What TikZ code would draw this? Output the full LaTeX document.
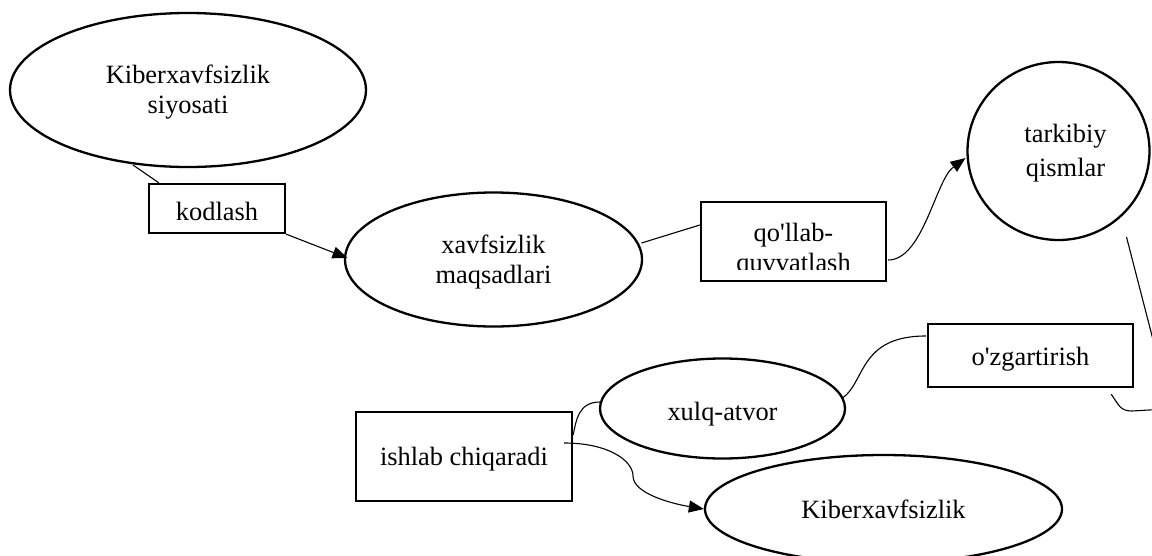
\documentclass[tikz,border=0pt]{standalone}
\usepackage{fontspec}
\setmainfont{Liberation Serif}
\usetikzlibrary{calc,arrows.meta,shapes.geometric}

\tikzset{
  shp/.style={draw, line width=2.3pt, inner sep=0pt},
  oval/.style={shp, ellipse},
  boxnode/.style={shp, rectangle},
  fs/.style={font=\fontsize{26.4}{#1}\selectfont},
  txt/.style={fs=30, align=center, inner sep=0pt},
  conn/.style={line width=1.1pt},
  arrowconn/.style={conn, -{Triangle[length=15pt,width=12pt]}},
}

\begin{document}
\begin{tikzpicture}[x=1pt,y=1pt]
\useasboundingbox (0,0) rectangle (1152,-555);
\fill[white] (0,0) rectangle (1152,-555);
\clip (0,0) rectangle (1152,-555);

% ellipses
\node[oval, minimum width=356pt, minimum height=154pt,
  label={[txt, fs=30, yshift=-2.5pt]center:{Kiberxavfsizlik\\siyosati}}] (e1) at (188,-90) {};
\node[oval, minimum width=297pt, minimum height=134pt,
  label={[txt, fs=30, yshift=-3pt]center:{xavfsizlik\\maqsadlari}}] (e2) at (493.5,-259.5) {};
\node[oval, minimum width=182pt, minimum height=178pt,
  label={[txt, fs=34, xshift=7pt, yshift=-2pt]center:{tarkibiy\\qismlar}}] (e3) at (1058.5,-151) {};
\node[oval, minimum width=245pt, minimum height=100pt,
  label={[txt, yshift=-6pt]center:{xulq-atvor}}] (e4) at (722.5,-408.5) {};
\node[oval, minimum width=357pt, minimum height=108pt,
  label={[txt]center:{Kiberxavfsizlik}}] (e5) at (883.5,-509) {};

% boxes
\node[boxnode, minimum width=136pt, minimum height=49pt,
  label={[txt, yshift=-2.5pt]center:{kodlash}}] (kod) at (217,-208.5) {};
\node[boxnode, minimum width=185pt, minimum height=79pt,
  path picture={
    \clip (path picture bounding box.north west) rectangle
          ($(path picture bounding box.south east)+(0,12)$);
    \node[txt] at ($(path picture bounding box.center)+(0,-8.3)$)
      {qo\textquotesingle llab-\\quvvatlash};
  }] (qo) at (793.5,-241.5) {};
\node[boxnode, minimum width=205pt, minimum height=63pt,
  label={[txt, yshift=-3.4pt]center:{o\textquotesingle zgartirish}}] (oz) at (1030.5,-355.5) {};
\node[boxnode, minimum width=216pt, minimum height=89pt,
  label={[txt, yshift=-2.4pt]center:{ishlab chiqaradi}}] (ish) at (464,-456.5) {};

% free ends and bends of connectors
\coordinate (offA) at (1166,-390);
\coordinate (ozR) at (1132,-411);
\coordinate (offB) at (1166,-409);
\coordinate (bendK) at (633,-476);

% connectors
\draw[conn] ($(e1.center)+(-55,-75)$) -- ($(kod.north west)+(11,0)$);
\draw[arrowconn] (kod.south east) -- ($(e2.center)+(-146,1.5)$);
\draw[conn] ($(e2.center)+(148,16.5)$) -- ($(qo.west)+(0,16.5)$);
\draw[arrowconn] ($(qo.east)+(1,-18.5)$) .. controls +(35,0) and +(-30,-22) .. ($(e3.center)+(-93,-7)$);
\draw[conn] ($(e3.center)+(68,-86)$) -- (offA);
\draw[conn] ($(oz.south east)+(-23,-6)$) .. controls +(8,-11) and +(-12,0) .. (ozR) -- (offB);
\draw[conn] ($(oz.west)+(-1,19.5)$) .. controls +(-67,0) and +(23,16) .. ($(e4.center)+(120,10.5)$);
\draw[conn] ($(ish.east)+(0,21.5)$) .. controls +(3,14) and +(-22,0) .. ($(e4.center)+(-122.5,6.5)$);
\draw[arrowconn] ($(ish.east)+(-9,13.5)$) .. controls +(45,0) and +(0,15) .. (bendK)
  .. controls +(0,-18) and +(-30,5) .. (e5.west);
\end{tikzpicture}
\end{document}
